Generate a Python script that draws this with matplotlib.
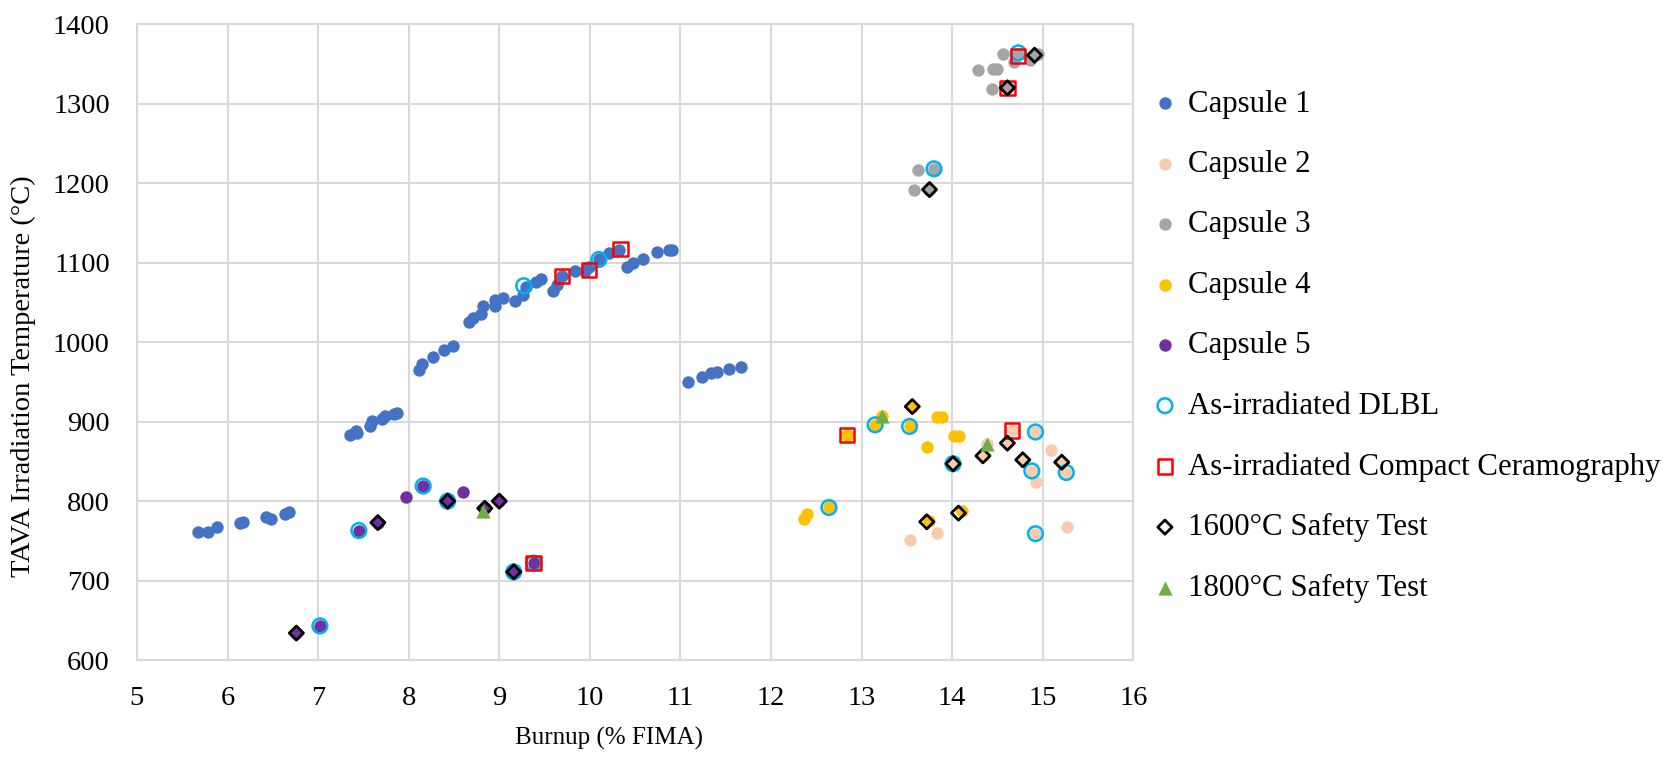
import matplotlib
matplotlib.use("Agg")
import matplotlib.pyplot as plt

plt.rcParams['font.family'] = ['Liberation Serif', 'DejaVu Serif']

# burnup (% FIMA) / TAVA temperature (C)
cap1_x = [5.67, 5.78, 5.88, 6.14, 6.17, 6.42, 6.48, 6.64, 6.68,
          7.35, 7.42, 7.43, 7.57, 7.59, 7.71, 7.74, 7.84, 7.87,
          8.11, 8.15, 8.27, 8.39, 8.49, 8.67, 8.71, 8.80, 8.82, 8.95, 8.95, 9.04,
          9.17, 9.26, 9.30, 9.41, 9.46, 9.59, 9.64, 9.69, 9.84, 9.95, 9.99,
          10.10, 10.21, 10.32, 10.41, 10.48, 10.59, 10.74, 10.87, 10.91,
          11.08, 11.24, 11.34, 11.40, 11.54, 11.67]
cap1_y = [761, 761, 767, 772, 774, 780, 778, 784, 786,
          883, 888, 886, 895, 901, 903, 907, 910, 911,
          965, 973, 981, 990, 995, 1025, 1030, 1036, 1046, 1046, 1053, 1055,
          1052, 1059, 1070, 1076, 1080, 1064, 1072, 1083, 1090, 1090, 1095,
          1104, 1112, 1116, 1094, 1100, 1105, 1114, 1116, 1116,
          950, 956, 961, 963, 966, 969]

cap2_x = [13.53, 13.83, 14.01, 14.34, 14.38, 14.61, 14.66, 14.92, 15.09,
          14.78, 14.88, 14.93, 15.21, 15.26, 14.92, 15.27]
cap2_y = [751, 760, 847, 857, 872, 873, 889, 887, 864,
          852, 838, 824, 849, 836, 759, 768]

cap3_x = [13.62, 13.80, 13.58, 13.75, 14.28, 14.45, 14.50, 14.44, 14.61,
          14.56, 14.73, 14.68, 14.86, 14.91, 14.95]
cap3_y = [1216, 1218, 1191, 1192, 1342, 1344, 1344, 1318, 1320,
          1362, 1362, 1353, 1355, 1361, 1362]

cap4_x = [12.36, 12.40, 12.64, 12.84, 13.15, 13.23, 13.53, 13.56, 13.83, 13.89,
          13.72, 14.02, 14.08, 13.74, 14.11]
cap4_y = [777, 784, 792, 883, 896, 907, 894, 919, 906, 906,
          868, 882, 882, 775, 787]

cap5_x = [6.76, 7.02, 7.45, 7.66, 7.97, 8.16, 8.43, 8.60, 8.84, 9.00, 9.16, 9.38]
cap5_y = [634, 643, 763, 773, 805, 819, 800, 811, 791, 800, 711, 722]

dlbl_x = [7.02, 7.45, 8.16, 8.43, 9.16, 9.38, 9.27, 10.10,
          12.64, 13.15, 13.53, 14.01, 14.92, 14.88, 15.26, 14.92, 13.80, 14.73]
dlbl_y = [643, 763, 819, 800, 711, 722, 1071, 1104,
          792, 896, 894, 847, 887, 838, 836, 759, 1218, 1364]

ceram_x = [9.38, 9.69, 9.99, 10.34, 12.84, 14.66, 14.61, 14.73]
ceram_y = [722, 1083, 1091, 1117, 883, 889, 1320, 1360]

st1600_x = [6.76, 7.66, 8.43, 8.84, 9.00, 9.16, 13.56, 13.72, 14.07, 14.01,
            14.34, 14.61, 14.78, 15.21, 13.75, 14.61, 14.91]
st1600_y = [634, 773, 800, 791, 800, 711, 919, 774, 785, 847,
            857, 873, 852, 849, 1192, 1320, 1361]

st1800_x = [8.82, 13.23, 14.38]
st1800_y = [787, 907, 872]

fig = plt.figure(figsize=(16.74, 7.57), dpi=100)
ax = fig.add_axes([0.0818, 0.128, 0.5952, 0.840])

dot = dict(marker='o', s=80, linewidths=0)
ax.scatter(cap1_x, cap1_y, color='#4472C4', label='Capsule 1', **dot)
ax.scatter(cap2_x, cap2_y, color='#F8CBAD', label='Capsule 2', **dot)
ax.scatter(cap3_x, cap3_y, color='#A5A5A5', label='Capsule 3', **dot)
ax.scatter(cap4_x, cap4_y, color='#FFC000', label='Capsule 4', **dot)
ax.scatter(cap5_x, cap5_y, color='#7030A0', label='Capsule 5', **dot)
ax.scatter(dlbl_x, dlbl_y, marker='o', s=112, facecolors='none',
           edgecolors='#00B0F0', linewidths=1.8, label='As-irradiated DLBL')
ax.scatter(ceram_x, ceram_y, marker='s', s=108, facecolors='none',
           edgecolors='#FF0000', linewidths=1.8,
           label='As-irradiated Compact Ceramography')
ax.scatter(st1600_x, st1600_y, marker='D', s=52, facecolors='none',
           edgecolors='black', linewidths=2.0, label='1600°C Safety Test')
ax.scatter(st1800_x, st1800_y, marker='^', s=105, color='#70AD47',
           linewidths=0, label='1800°C Safety Test')

ax.set_xlim(5, 16)
ax.set_ylim(600, 1400)
ax.set_xticks(range(5, 17))
ax.set_yticks(range(600, 1401, 100))
ax.grid(True, color='#D9D9D9', linewidth=1.5)
ax.set_axisbelow(True)
for s in ax.spines.values():
    s.set_color('#D9D9D9')
    s.set_linewidth(1.5)
ax.tick_params(length=0, labelsize=20.5)
ax.tick_params(axis='y', pad=19.5)
ax.tick_params(axis='x', pad=19)
ax.set_xlabel('Burnup (% FIMA)', fontsize=18, labelpad=11)
ax.set_ylabel('TAVA Irradiation Temperature (°C)', fontsize=20.5, labelpad=12)
ax.xaxis.label.set_x(0.474)
ax.yaxis.label.set_y(0.4465)

fig.legend(loc='upper left', bbox_to_anchor=(0.683, 0.898), frameon=False,
           fontsize=22.2, labelspacing=1.02, handletextpad=0.45,
           handlelength=0.6, borderaxespad=0)

fig.savefig('out.png', dpi=100)
